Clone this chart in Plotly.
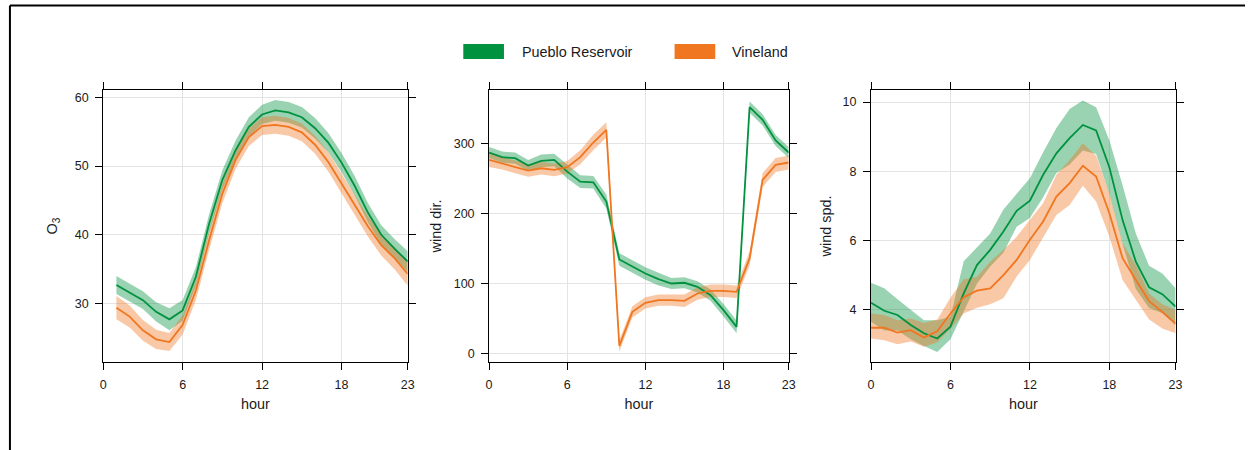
import plotly.graph_objects as go

# ---------------- data ----------------
hours = list(range(24))
o3_hours = list(range(1, 24))

o3_pueblo = [32.7, 31.6, 30.5, 28.8, 27.7, 29.0, 33.9, 41.6, 48.0, 52.3, 55.7, 57.5,
             58.1, 57.8, 57.1, 55.5, 53.4, 50.5, 47.1, 43.2, 40.0, 38.0, 36.1]
o3_pueblo_err = [1.3, 1.3, 1.3, 1.4, 1.6, 1.5, 1.4, 1.4, 1.4, 1.4, 1.4, 1.4,
                 1.5, 1.5, 1.5, 1.5, 1.4, 1.4, 1.4, 1.4, 1.4, 1.4, 1.5]
o3_vineland = [29.4, 28.1, 26.1, 24.8, 24.4, 26.9, 31.9, 39.2, 46.0, 50.9, 54.2, 55.8,
               56.0, 55.7, 54.9, 53.1, 50.6, 47.5, 44.2, 41.2, 38.5, 36.6, 34.3]
o3_vineland_err = [1.7, 1.6, 1.5, 1.4, 1.3, 1.4, 1.4, 1.4, 1.4, 1.3, 1.3, 1.3,
                   1.3, 1.3, 1.3, 1.3, 1.4, 1.4, 1.4, 1.5, 1.5, 1.6, 1.7]

wd_pueblo = [287.6, 280.9, 279.5, 269.0, 275.6, 277.0, 260.3, 246.0, 245.0, 217.4, 134.7, 125.2,
             114.6, 106.5, 100.3, 101.3, 95.5, 83.6, 62.1, 38.2, 352.6, 334.4, 304.8, 287.6]
wd_pueblo_err = [8, 8, 8, 8, 9, 9, 10, 9, 9, 10, 9, 9,
                 9, 9, 8, 8, 8, 8, 9, 9, 8, 8, 8, 8]
wd_vineland = [277.0, 272.3, 267.5, 261.8, 265.1, 262.7, 266.6, 280.9, 301.9, 320.0, 11.0, 59.7,
               72.6, 76.4, 76.4, 75.5, 86.0, 89.8, 89.8, 88.4, 136.1, 248.4, 269.9, 273.3]
wd_vineland_err = [10, 9, 9, 9, 9, 9, 9, 10, 11, 11, 8, 8,
                   8, 8, 8, 9, 9, 9, 9, 9, 10, 10, 10, 10]

ws_pueblo = [4.20, 3.97, 3.85, 3.56, 3.32, 3.17, 3.51, 4.47, 5.29, 5.73, 6.26, 6.86,
             7.15, 7.90, 8.52, 8.96, 9.34, 9.18, 8.12, 6.59, 5.39, 4.65, 4.45, 4.09]
ws_pueblo_upper = [4.78, 4.62, 4.30, 4.00, 3.70, 3.70, 3.80, 5.40, 5.80, 6.20, 6.90, 7.35,
                   7.80, 8.55, 9.25, 9.80, 10.05, 9.85, 8.90, 7.60, 6.20, 5.27, 5.05, 4.62]
ws_pueblo_lower = [3.65, 3.40, 3.40, 3.15, 2.95, 2.78, 3.15, 3.95, 4.75, 5.25, 5.65, 6.40,
                   6.65, 7.25, 7.95, 8.20, 8.60, 8.50, 7.35, 5.90, 4.60, 4.05, 3.90, 3.55]
ws_vineland = [3.48, 3.48, 3.34, 3.41, 3.20, 3.38, 3.89, 4.36, 4.55, 4.62, 5.00, 5.44,
               6.02, 6.55, 7.27, 7.66, 8.16, 7.85, 6.79, 5.49, 4.86, 4.25, 3.94, 3.60]
ws_vineland_upper = [3.89, 3.85, 3.70, 3.75, 3.62, 3.72, 4.35, 4.88, 4.95, 5.39, 5.73, 6.11,
                     6.60, 7.08, 7.90, 8.33, 8.81, 8.45, 7.37, 5.92, 5.29, 4.47, 4.16, 3.99]
ws_vineland_lower = [3.17, 3.12, 3.00, 3.08, 2.93, 3.05, 3.45, 3.89, 4.06, 4.16, 4.33, 4.96,
                     5.44, 6.11, 6.74, 7.03, 7.58, 7.13, 6.11, 4.86, 4.28, 3.72, 3.46, 3.32]

site_names = ["Pueblo Reservoir", "Vineland"]
line_colors = ["#00923F", "#F07620"]
ribbon_colors = ["rgba(0,146,63,0.4)", "rgba(240,118,32,0.4)"]

y_titles = ["O<sub>3</sub>", "wind dir.", "wind spd."]
y_ranges = [[21.5, 61.06], [-12, 377], [2.49, 10.35]]
y_ticks = [[30, 40, 50, 60], [0, 100, 200, 300], [4, 6, 8, 10]]
x_ticks = [0, 6, 12, 18, 23]

# ---------------- layout geometry (pixels) ----------------
W, H = 1252, 450
panel_px = [(101, 408), (490, 792), (875, 1182)]
top_px, bottom_px = 90, 362
y_title_standoff = [13, 8, 7]

def px_x(p):
    return p / W

def px_y(p):
    return 1 - p / H

fig = go.Figure()

panels = [
    (o3_hours,
     [(o3_pueblo, [m - e for m, e in zip(o3_pueblo, o3_pueblo_err)], [m + e for m, e in zip(o3_pueblo, o3_pueblo_err)]),
      (o3_vineland, [m - e for m, e in zip(o3_vineland, o3_vineland_err)], [m + e for m, e in zip(o3_vineland, o3_vineland_err)])]),
    (hours,
     [(wd_pueblo, [m - e for m, e in zip(wd_pueblo, wd_pueblo_err)], [m + e for m, e in zip(wd_pueblo, wd_pueblo_err)]),
      (wd_vineland, [m - e for m, e in zip(wd_vineland, wd_vineland_err)], [m + e for m, e in zip(wd_vineland, wd_vineland_err)])]),
    (hours,
     [(ws_pueblo, ws_pueblo_lower, ws_pueblo_upper),
      (ws_vineland, ws_vineland_lower, ws_vineland_upper)]),
]

for i, (xs, series) in enumerate(panels):
    ax = "" if i == 0 else str(i + 1)
    for k, (mean, lo, hi) in enumerate(series):
        fig.add_trace(go.Scatter(
            x=list(xs) + list(xs)[::-1], y=list(hi) + list(lo)[::-1],
            fill="toself", fillcolor=ribbon_colors[k], line=dict(width=0),
            mode="lines", hoverinfo="skip", showlegend=False,
            xaxis="x" + ax, yaxis="y" + ax))
    for k, (mean, lo, hi) in enumerate(series):
        fig.add_trace(go.Scatter(
            x=xs, y=mean, mode="lines", name=site_names[k],
            line=dict(color=line_colors[k], width=1.8),
            showlegend=False, xaxis="x" + ax, yaxis="y" + ax))

font_family = "Liberation Sans, Arial, sans-serif"
axis_common = dict(
    showline=True, linecolor="#000000", linewidth=1, mirror="ticks",
    ticks="outside", ticklen=7, tickcolor="#000000", tickwidth=1,
    ticklabelstandoff=4,
    showgrid=True, gridcolor="#E4E4E4", gridwidth=1, zeroline=False,
    tickfont=dict(size=12.5, color="#1a1a1a", family=font_family),
)

layout = dict(
    width=W, height=H,
    margin=dict(l=0, r=0, t=0, b=0),
    paper_bgcolor="white", plot_bgcolor="white",
    font=dict(family=font_family, color="#1a1a1a"),
    showlegend=False,
)

for i in range(3):
    ax = "" if i == 0 else str(i + 1)
    x0, x1 = panel_px[i]
    layout["xaxis" + ax] = dict(
        axis_common, domain=[px_x(x0), px_x(x1)], range=[0, 23],
        tickvals=x_ticks, anchor="y" + ax,
        title=dict(text="hour", font=dict(size=14.4, family=font_family), standoff=7))
    layout["yaxis" + ax] = dict(
        axis_common, domain=[px_y(bottom_px), px_y(top_px)], range=y_ranges[i],
        tickvals=y_ticks[i], anchor="x" + ax,
        title=dict(text=y_titles[i], font=dict(size=14.4, family=font_family),
                   standoff=y_title_standoff[i]))

fig.update_layout(**layout)

# legend drawn as boxes + text
legend_items = [(464, 505, 521), (677, 718, 733)]
for k, (bx0, bx1, tx) in enumerate(legend_items):
    fig.add_shape(type="rect", xref="paper", yref="paper",
                  x0=px_x(bx0), x1=px_x(bx1), y0=px_y(59), y1=px_y(44),
                  fillcolor=line_colors[k], line=dict(width=0))
    fig.add_annotation(xref="paper", yref="paper", x=px_x(tx), y=px_y(51.5),
                       text=site_names[k], showarrow=False, xanchor="left", yanchor="middle",
                       font=dict(size=14.4, color="#1a1a1a", family=font_family))

# outer frame (top and left edges visible)
fig.add_shape(type="line", xref="paper", yref="paper",
              x0=px_x(7), x1=px_x(1252), y0=px_y(5.5), y1=px_y(5.5),
              line=dict(color="black", width=2))
fig.add_shape(type="line", xref="paper", yref="paper",
              x0=px_x(7), x1=px_x(7), y0=px_y(5.5), y1=px_y(450),
              line=dict(color="black", width=2))

fig.write_html("out.html")
